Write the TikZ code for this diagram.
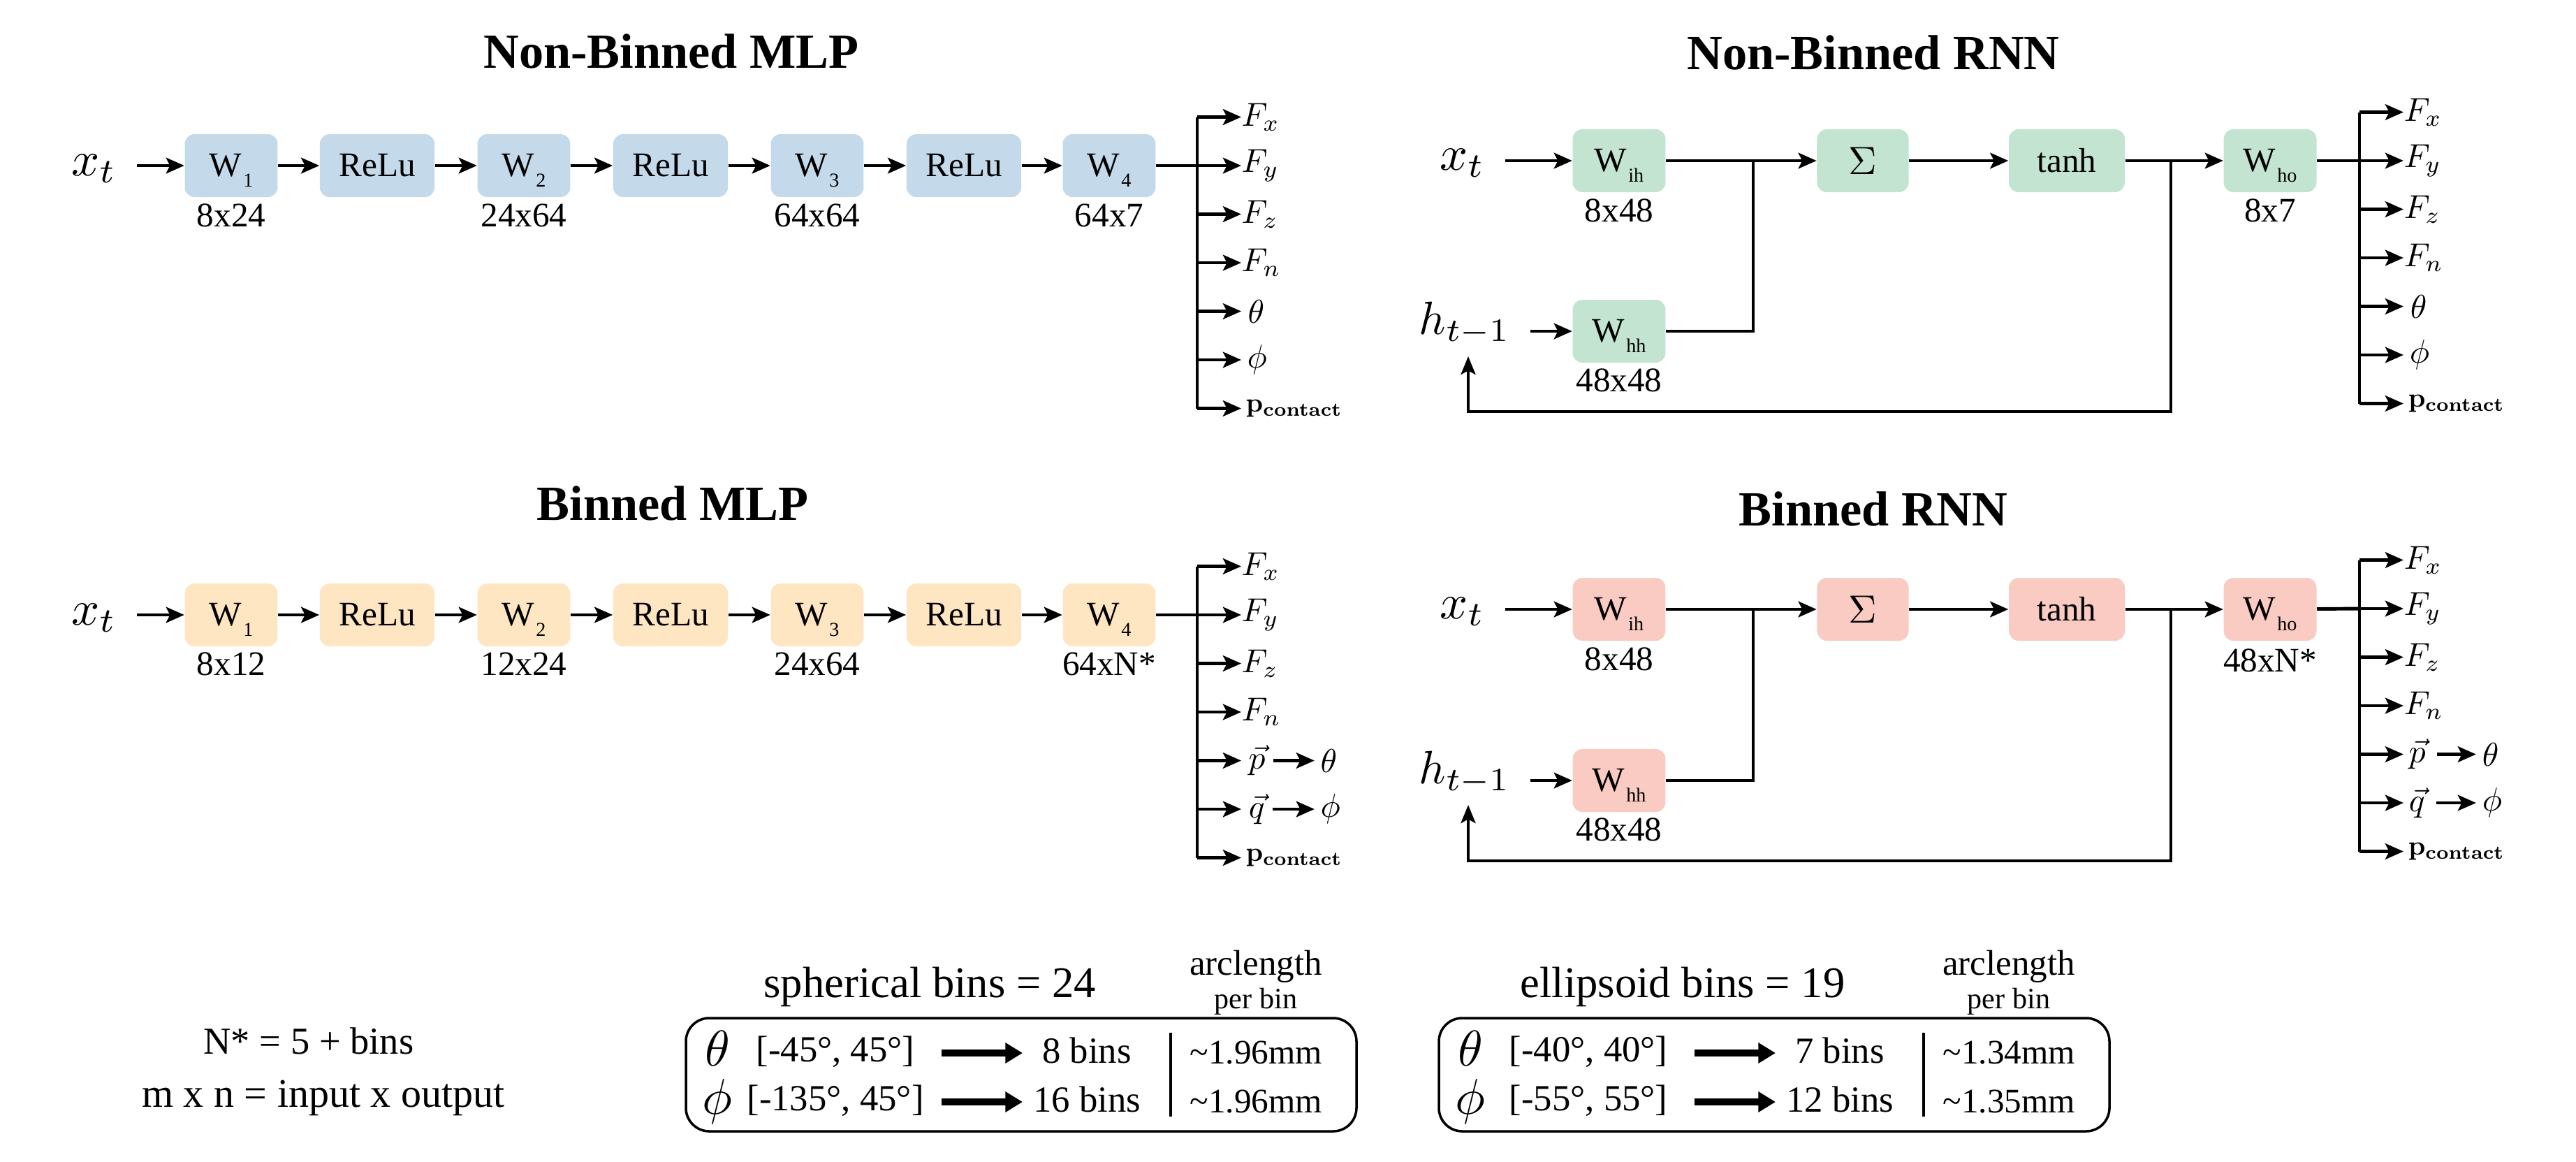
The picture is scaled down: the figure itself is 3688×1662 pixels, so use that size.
\documentclass[tikz,border=0pt]{standalone}
\usepackage{graphicx}
\usepackage[no-math]{fontspec}
\setmainfont{Liberation Serif}
\usetikzlibrary{arrows.meta,calc}
\newcommand\myfs[1]{\fontsize{#1}{#1}\selectfont}
\newcommand\mscl[2]{\scalebox{#1}{\myfs{10}$#2$}}
\newcommand\wsub[1]{W\kern0.6pt\raisebox{-4.3pt}[0pt][0pt]{\myfs{8}#1}}
\definecolor{cblue}{RGB}{196,217,233}
\definecolor{corange}{RGB}{255,230,194}
\definecolor{cgreen}{RGB}{194,228,208}
\definecolor{cpink}{RGB}{249,203,194}
\tikzset{
 arr/.style={line width=1.4pt, -{Stealth[length=7.4pt,width=6.4pt,inset=1.6pt]}},
 ln/.style={line width=1.4pt},
 bus/.style={line width=1.05pt},
 rt/.style={line width=1.1pt},
 rtarr/.style={line width=1.1pt, -{Stealth[length=7.4pt,width=6pt,inset=1.6pt]}},
 box/.style={rounded corners=4pt, minimum height=25.6pt, inner sep=0pt, font=\myfs{14}},
 wbox/.style={box, minimum width=37.8pt},
 rbox/.style={box, minimum width=46.7pt},
 tbox/.style={box, minimum width=47.2pt},
 sbox/.style={box, minimum width=37.3pt},
 dim/.style={font=\myfs{14}, inner sep=0pt},
 ttl/.style={font=\bfseries\myfs{20}, inner sep=0pt},
 inp/.style={inner sep=0pt, anchor=base},
 outl/.style={inner sep=0pt, anchor=west},
 note/.style={font=\myfs{15.5}, inner sep=0pt},
 btitle/.style={font=\myfs{17.8}, inner sep=0pt},
 arcl/.style={font=\myfs{14.5}, inner sep=0pt},
 perb/.style={font=\myfs{12}, inner sep=0pt},
 bsym/.style={inner sep=0pt},
 btxt/.style={font=\myfs{15}, inner sep=0pt},
 bleft/.style={font=\myfs{14}, inner sep=0pt, anchor=west},
 bigarr/.style={line width=2.6pt, -{Triangle[length=7pt,width=8pt]}},
 bframe/.style={line width=1pt, rounded corners=9.5pt},
}
\newcommand\olab[1]{\mscl{1.35}{#1}}
\newcommand\pcon{\mscl{1.1}{\mathbf{p}_{\mathbf{contact}}}}
% non-binned outputs: #1 prefix, #2 bus x, #3 label x, #4 first y, #5 source node
\newcommand\outsA[5]{%
 \foreach \i/\dx/\lab in {0/0/{\olab{F_x}},1/0/{\olab{F_y}},2/0/{\olab{F_z}},3/0/{\olab{F_n}},4/9/{\olab{\theta}},5/8/{\olab{\phi}},6/6/{\pcon}}{%
   \coordinate (#1b\i) at (#2,{#4+\i*69.5});
   \node[outl] (#1o\i) at ({#3+\dx},{#4+\i*69.5}) {\lab};
 }
 \draw[bus] (#1b0) -- (#1b6);
 \foreach \i in {0,...,6}{\draw[arr] (#1b\i) -- (#1b\i -| #1o0.west);}
 \draw[ln] (#5) -- (#1b1);
}
% binned outputs: #6 p x, #7 theta x, #8 shorten start
\newcommand\outsB[8]{%
 \foreach \i in {0,...,6}{%
   \coordinate (#1b\i) at (#2,{#4+\i*69.5});
 }
 \foreach \i/\dx/\lab in {0/0/{\olab{F_x}},1/0/{\olab{F_y}},2/0/{\olab{F_z}},3/0/{\olab{F_n}},6/6/{\pcon}}{%
   \node[outl] (#1o\i) at ({#3+\dx},{#4+\i*69.5}) {\lab};
 }
 \node[outl] (#1o4) at (#6,{#4+4*69.5}) {\olab{\vec{p}}};
 \node[outl] (#1o5) at (#6,{#4+5*69.5}) {\olab{\vec{q}}};
 \node[outl] (#1th) at (#7,{#4+4*69.5}) {\olab{\theta}};
 \node[outl] (#1ph) at (#7,{#4+5*69.5}) {\olab{\phi}};
 \draw[bus] (#1b0) -- (#1b6);
 \foreach \i in {0,...,6}{\draw[arr] (#1b\i) -- (#1b\i -| #1o0.west);}
 \draw[arr, shorten <=#8, shorten >=2.3pt] (#1o4.east) -- (#1th.west);
 \draw[arr, shorten <=#8, shorten >=2.3pt] (#1o5.east) -- (#1ph.west);
 \draw[ln] (#5) -- (#1b1);
}
% bottom bin table: #1 prefix, #2 left x, #3 title, #4 r1, #5 b1, #6 mm1, #7 r2, #8 b2, #9 mm2
\newcommand\binbox[9]{%
 \draw[bframe] (#2,1457) rectangle ++(960,162);
 \node[btitle] (#1t) at ({#2+349},1412) {#3};
 \node[arcl] (#1a) at ({#2+816},1383) {arclength};
 \node[perb] (#1p) at ({#2+816},1433) {per bin};
 \node[bsym] (#1s1) at ({#2+45},1500) {\mscl{2.05}{\theta}};
 \node[bsym] (#1s2) at ({#2+45},1576) {\mscl{2.05}{\phi}};
 \node[btxt] (#1r1) at ({#2+214},1505) {#4};
 \node[btxt] (#1r2) at ({#2+214},1575) {#7};
 \node[btxt] (#1n1) at ({#2+574},1503) {#5};
 \node[btxt] (#1n2) at ({#2+574},1573) {#8};
 \node[bleft] (#1m1) at ({#2+721},1507) {#6};
 \node[bleft] (#1m2) at ({#2+721},1577) {#9};
 \coordinate (#1a1) at ({#2+366},1507);
 \coordinate (#1e1) at ({#2+482},1507);
 \coordinate (#1a2) at ({#2+366},1577);
 \coordinate (#1e2) at ({#2+482},1577);
 \draw[bigarr] (#1a1) -- (#1e1);
 \draw[bigarr] (#1a2) -- (#1e2);
 \draw[rt] ({#2+694},1478) -- ({#2+694},1598);
}
\begin{document}
\begin{tikzpicture}[x=0.01cm,y=-0.01cm]
\useasboundingbox (0,0) rectangle (3688,1662);

% ===== Non-Binned MLP =====
\node[ttl] (t1) at (961,73) {Non-Binned MLP};
\node[inp] (axt) at (135,251) {\mscl{2.0}{x_t}};
\node[wbox,fill=cblue] (a1) at (331,237) {\wsub{1}};
\node[rbox,fill=cblue] (a2) at (540,237) {ReLu};
\node[wbox,fill=cblue] (a3) at (750,237) {\wsub{2}};
\node[rbox,fill=cblue] (a4) at (960,237) {ReLu};
\node[wbox,fill=cblue] (a5) at (1170,237) {\wsub{3}};
\node[rbox,fill=cblue] (a6) at (1380,237) {ReLu};
\node[wbox,fill=cblue] (a7) at (1588,237) {\wsub{4}};
\node[dim] (ad1) at (331,308) {8x24};
\node[dim] (ad3) at (750,308) {24x64};
\node[dim] (ad5) at (1170,308) {64x64};
\node[dim] (ad7) at (1588,308) {64x7};
\draw[arr, shorten <=8pt] (axt.east |- a1) -- (a1);
\draw[arr] (a1) -- (a2);
\draw[arr] (a2) -- (a3);
\draw[arr] (a3) -- (a4);
\draw[arr] (a4) -- (a5);
\draw[arr] (a5) -- (a6);
\draw[arr] (a6) -- (a7);
\outsA{ao}{1714}{1777}{167.5}{a7}

% ===== Binned MLP =====
\node[ttl] (t2) at (963,720) {Binned MLP};
\node[inp] (bxt) at (135,894) {\mscl{2.0}{x_t}};
\node[wbox,fill=corange] (b1) at (331,880) {\wsub{1}};
\node[rbox,fill=corange] (b2) at (540,880) {ReLu};
\node[wbox,fill=corange] (b3) at (750,880) {\wsub{2}};
\node[rbox,fill=corange] (b4) at (960,880) {ReLu};
\node[wbox,fill=corange] (b5) at (1170,880) {\wsub{3}};
\node[rbox,fill=corange] (b6) at (1380,880) {ReLu};
\node[wbox,fill=corange] (b7) at (1588,880) {\wsub{4}};
\node[dim] (bd1) at (331,950) {8x12};
\node[dim] (bd3) at (750,950) {12x24};
\node[dim] (bd5) at (1170,950) {24x64};
\node[dim] (bd7) at (1588,950) {64xN*};
\draw[arr, shorten <=8pt] (bxt.east |- b1) -- (b1);
\draw[arr] (b1) -- (b2);
\draw[arr] (b2) -- (b3);
\draw[arr] (b3) -- (b4);
\draw[arr] (b4) -- (b5);
\draw[arr] (b5) -- (b6);
\draw[arr] (b6) -- (b7);
\outsB{bo}{1714}{1777}{810.5}{b7}{1787}{1890}{3pt}

% ===== Non-Binned RNN =====
\node[ttl] (t3) at (2682,75) {Non-Binned RNN};
\node[inp] (cxt) at (2094,243) {\mscl{2.0}{x_t}};
\node[inp] (cht) at (2097,478) {\mscl{1.9}{h_{t-1}}};
\node[wbox,fill=cgreen] (cih) at (2318,230) {\wsub{ih}};
\node[wbox,fill=cgreen] (chh) at (2318,474) {\wsub{hh}};
\node[sbox,fill=cgreen] (csig) at (2667,230) {\mscl{1.6}{\Sigma}};
\node[tbox,fill=cgreen] (ctanh) at (2959,230) {tanh};
\node[wbox,fill=cgreen] (cho) at (3250,230) {\wsub{ho}};
\node[dim] (cd1) at (2318,301) {8x48};
\node[dim] (cd2) at (2318,544) {48x48};
\node[dim] (cd3) at (3250,301) {8x7};
\draw[arr, shorten <=8pt] (cxt.east |- cih) -- (cih);
\draw[arr, shorten <=8pt] (cht.east |- chh) -- (chh);
\draw[arr] (cih) -- (csig);
\coordinate (cj1) at (2510,474);
\coordinate (cj2) at (2510,230);
\draw[rt] (chh) -- (cj1) -- (cj2);
\draw[arr] (csig) -- (ctanh);
\draw[arr] (ctanh) -- (cho);
\coordinate (cf1) at (3108,230);
\coordinate (cf2) at (3108,589);
\coordinate (cf3) at (2102,589);
\coordinate (cf4) at (2102,510);
\draw[rtarr] (cf1) -- (cf2) -- (cf3) -- (cf4);
\outsA{co}{3378}{3441}{160.5}{cho}

% ===== Binned RNN =====
\node[ttl] (t4) at (2682,728) {Binned RNN};
\node[inp] (dxt) at (2094,885) {\mscl{2.0}{x_t}};
\node[inp] (dht) at (2097,1121) {\mscl{1.9}{h_{t-1}}};
\node[wbox,fill=cpink] (dih) at (2318,872) {\wsub{ih}};
\node[wbox,fill=cpink] (dhh) at (2318,1117) {\wsub{hh}};
\node[sbox,fill=cpink] (dsig) at (2667,872) {\mscl{1.6}{\Sigma}};
\node[tbox,fill=cpink] (dtanh) at (2959,872) {tanh};
\node[wbox,fill=cpink] (dho) at (3250,872) {\wsub{ho}};
\node[dim] (dd1) at (2318,943) {8x48};
\node[dim] (dd2) at (2318,1187) {48x48};
\node[dim] (dd3) at (3250,945) {48xN*};
\draw[arr, shorten <=8pt] (dxt.east |- dih) -- (dih);
\draw[arr, shorten <=8pt] (dht.east |- dhh) -- (dhh);
\draw[arr] (dih) -- (dsig);
\coordinate (dj1) at (2510,1117);
\coordinate (dj2) at (2510,872);
\draw[rt] (dhh) -- (dj1) -- (dj2);
\draw[arr] (dsig) -- (dtanh);
\draw[arr] (dtanh) -- (dho);
\coordinate (df1) at (3108,872);
\coordinate (df2) at (3108,1232);
\coordinate (df3) at (2102,1232);
\coordinate (df4) at (2102,1152);
\draw[rtarr] (df1) -- (df2) -- (df3) -- (df4);
\outsB{do}{3378}{3441}{801.5}{dho}{3448}{3553}{4.5pt}

% ===== bottom notes =====
\node[note] (n1) at (442,1490) {N* = 5 + bins};
\node[note, font=\myfs{16.5}] (n2) at (463,1571) {m x n = input x output};
\binbox{sp}{982}{spherical bins = 24}{[-45°, 45°]}{8 bins}{\textasciitilde1.96mm}{[-135°, 45°]}{16 bins}{\textasciitilde1.96mm}
\binbox{el}{2060}{ellipsoid bins = 19}{[-40°, 40°]}{7 bins}{\textasciitilde1.34mm}{[-55°, 55°]}{12 bins}{\textasciitilde1.35mm}
\end{tikzpicture}
\end{document}
